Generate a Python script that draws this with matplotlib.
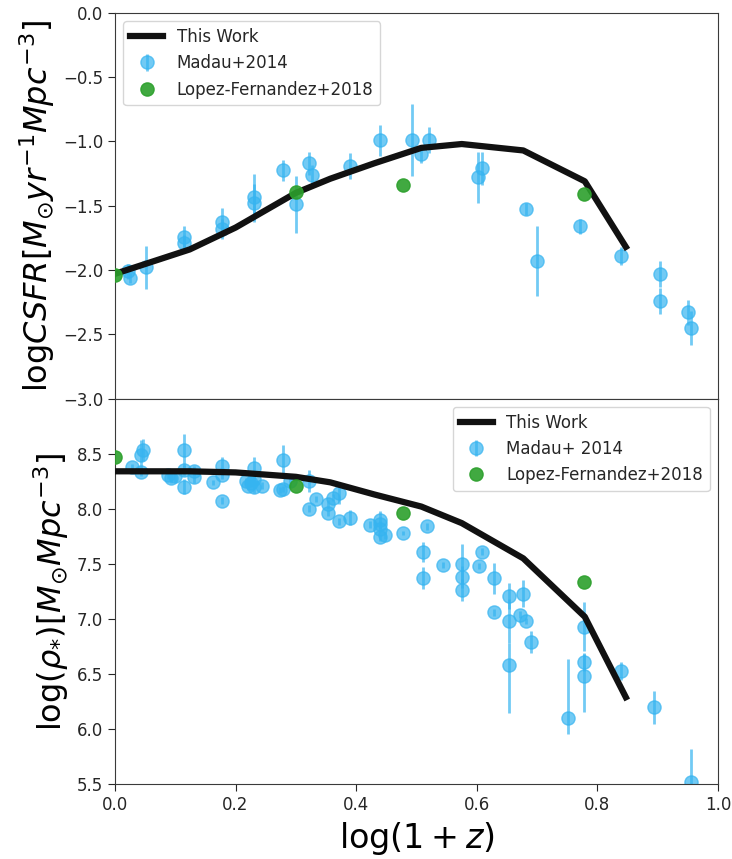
import numpy as np
import matplotlib
matplotlib.use('Agg')
import matplotlib.pyplot as plt

# "This Work" curves (same snapshots in both panels)
work_x = [0.0, 0.124, 0.20, 0.30, 0.357, 0.43, 0.508, 0.575, 0.677, 0.779, 0.847]
work_csfr = [-2.03, -1.84, -1.67, -1.40, -1.29, -1.17, -1.05, -1.02, -1.07, -1.31, -1.82]
work_rho = [8.34, 8.34, 8.33, 8.29, 8.24, 8.13, 8.02, 7.87, 7.55, 7.02, 6.29]

# Madau & Dickinson 2014 compilation - CSFR
madau_sfr_x = [0.022, 0.025, 0.052, 0.115, 0.115, 0.177, 0.177, 0.231, 0.231, 0.279,
               0.301, 0.322, 0.327, 0.390, 0.439, 0.492, 0.508, 0.520, 0.602, 0.608,
               0.682, 0.699, 0.771, 0.839, 0.903, 0.903, 0.950, 0.955]
madau_sfr_y = [-2.01, -2.06, -1.98, -1.74, -1.79, -1.63, -1.68, -1.43, -1.48, -1.225,
               -1.49, -1.17, -1.26, -1.19, -0.99, -0.99, -1.10, -0.99, -1.28, -1.21,
               -1.525, -1.93, -1.66, -1.89, -2.03, -2.24, -2.33, -2.45]
madau_sfr_err = [0.06, 0.04, 0.17, 0.08, 0.06, 0.11, 0.08, 0.18, 0.15, 0.08,
                 0.22, 0.09, 0.08, 0.10, 0.12, 0.28, 0.07, 0.10, 0.20, 0.13,
                 0.05, 0.27, 0.06, 0.07, 0.10, 0.10, 0.10, 0.13]

# Madau & Dickinson 2014 compilation - stellar mass density
madau_rho_x = [0.029, 0.043, 0.047, 0.043, 0.088, 0.093, 0.100, 0.115, 0.115, 0.115,
               0.131, 0.131, 0.162, 0.177, 0.177, 0.177, 0.218, 0.220, 0.225, 0.231,
               0.231, 0.231, 0.244, 0.278, 0.274, 0.279, 0.291, 0.322, 0.322, 0.333,
               0.353, 0.353, 0.362, 0.372, 0.371, 0.390, 0.423, 0.439, 0.439, 0.439,
               0.439, 0.448, 0.477, 0.518, 0.511, 0.511, 0.544, 0.575, 0.575, 0.575,
               0.603, 0.608, 0.629, 0.629, 0.653, 0.653, 0.653, 0.672, 0.677, 0.682,
               0.689, 0.751, 0.778, 0.778, 0.778, 0.839, 0.893, 0.955]
madau_rho_y = [8.375, 8.49, 8.53, 8.33, 8.31, 8.28, 8.30, 8.53, 8.35, 8.20,
               8.345, 8.29, 8.24, 8.39, 8.31, 8.075, 8.25, 8.21, 8.23, 8.37,
               8.27, 8.20, 8.21, 8.445, 8.17, 8.18, 8.25, 8.25, 8.00, 8.09,
               8.04, 7.96, 8.10, 8.14, 7.885, 7.92, 7.855, 7.90, 7.86, 7.82,
               7.74, 7.76, 7.78, 7.84, 7.61, 7.37, 7.49, 7.50, 7.38, 7.26,
               7.48, 7.61, 7.37, 7.06, 7.21, 6.98, 6.58, 7.04, 7.23, 6.98,
               6.79, 6.10, 6.93, 6.61, 6.48, 6.53, 6.20, 5.52]
madau_rho_lo = [0.03, 0.13, 0.10, 0.03, 0.04, 0.05, 0.06, 0.15, 0.05, 0.07,
                0.04, 0.06, 0.02, 0.08, 0.04, 0.03, 0.03, 0.04, 0.03, 0.10,
                0.05, 0.06, 0.03, 0.13, 0.03, 0.03, 0.05, 0.10, 0.03, 0.03,
                0.04, 0.03, 0.03, 0.10, 0.03, 0.07, 0.03, 0.08, 0.03, 0.03,
                0.03, 0.03, 0.02, 0.03, 0.09, 0.10, 0.03, 0.18, 0.10, 0.10,
                0.03, 0.03, 0.14, 0.03, 0.12, 0.20, 0.43, 0.03, 0.12, 0.03,
                0.10, 0.14, 0.22, 0.08, 0.32, 0.08, 0.15, 0.10]
madau_rho_hi = [0.03, 0.13, 0.10, 0.03, 0.04, 0.05, 0.06, 0.15, 0.05, 0.07,
                0.04, 0.06, 0.02, 0.08, 0.04, 0.03, 0.03, 0.04, 0.03, 0.10,
                0.05, 0.06, 0.03, 0.13, 0.03, 0.03, 0.05, 0.10, 0.03, 0.03,
                0.04, 0.03, 0.03, 0.10, 0.03, 0.07, 0.03, 0.08, 0.03, 0.03,
                0.03, 0.03, 0.02, 0.03, 0.09, 0.10, 0.03, 0.18, 0.10, 0.10,
                0.03, 0.03, 0.14, 0.03, 0.12, 0.20, 0.20, 0.03, 0.12, 0.03,
                0.10, 0.54, 0.22, 0.08, 0.20, 0.08, 0.15, 0.30]

# Lopez-Fernandez+2018
lopez_x = [0.0, 0.301, 0.477, 0.778]
lopez_csfr = [-2.04, -1.39, -1.34, -1.41]
lopez_rho = [8.47, 8.21, 7.96, 7.34]

blue = '#36b4f0'
green = '#2ca02c'
txt = '#262626'

plt.rcParams['font.family'] = 'DejaVu Sans'
plt.rcParams['axes.edgecolor'] = '#3a3a3a'
plt.rcParams['xtick.color'] = txt
plt.rcParams['ytick.color'] = txt
plt.rcParams['text.color'] = txt

fig, (ax1, ax2) = plt.subplots(2, 1, figsize=(7.32, 8.59), dpi=100, sharex=True)
fig.subplots_adjust(left=0.157, right=0.981, top=0.985, bottom=0.087, hspace=0)

#top panel: cosmic star formation rate density
l1, = ax1.plot(work_x, work_csfr, color='#111111', lw=4.5, label='This Work', zorder=3)
e1 = ax1.errorbar(madau_sfr_x, madau_sfr_y, yerr=madau_sfr_err, fmt='o', ms=9.5,
                  color=blue, ecolor=blue, elinewidth=2, capsize=0, alpha=0.7,
                  label='Madau+2014', zorder=2)
g1, = ax1.plot(lopez_x, lopez_csfr, 'o', ms=9.5, color=green, alpha=0.9,
               label='Lopez-Fernandez+2018', zorder=4)
ax1.set_ylim(-3.0, 0.0)
ax1.set_yticks(np.arange(-3.0, 0.01, 0.5))
ax1.set_ylabel(r'$\mathrm{log}CSFR[M_{\odot}yr^{-1}Mpc^{-3}]$', fontsize=23)
ax1.tick_params(axis='x', bottom=False)
ax1.tick_params(axis='y', labelsize=12, length=5)
ax1.legend([l1, e1, g1], ['This Work', 'Madau+2014', 'Lopez-Fernandez+2018'],
           loc='upper left', fontsize=12, framealpha=0.8)

#bottom panel: stellar mass density
l2, = ax2.plot(work_x, work_rho, color='#111111', lw=4.5, label='This Work', zorder=3)
e2 = ax2.errorbar(madau_rho_x, madau_rho_y, yerr=[madau_rho_lo, madau_rho_hi], fmt='o',
                  ms=9.5, color=blue, ecolor=blue, elinewidth=2, capsize=0, alpha=0.7,
                  label='Madau+ 2014', zorder=2)
g2, = ax2.plot(lopez_x, lopez_rho, 'o', ms=9.5, color=green, alpha=0.9,
               label='Lopez-Fernandez+2018', zorder=4)
ax2.set_ylim(5.5, 9.0)
ax2.set_yticks(np.arange(5.5, 8.51, 0.5))
ax2.set_xlim(0.0, 1.0)
ax2.set_xticks(np.arange(0.0, 1.01, 0.2))
ax2.set_ylabel(r'$\mathrm{log}(\rho_{*})[M_{\odot}Mpc^{-3}]$', fontsize=23)
ax2.set_xlabel(r'$\mathrm{log}(1+z)$', fontsize=24)
ax2.tick_params(labelsize=12, length=5)
ax2.legend([l2, e2, g2], ['This Work', 'Madau+ 2014', 'Lopez-Fernandez+2018'],
           loc='upper right', fontsize=12, framealpha=0.8)

plt.savefig('out.png', dpi=100)
